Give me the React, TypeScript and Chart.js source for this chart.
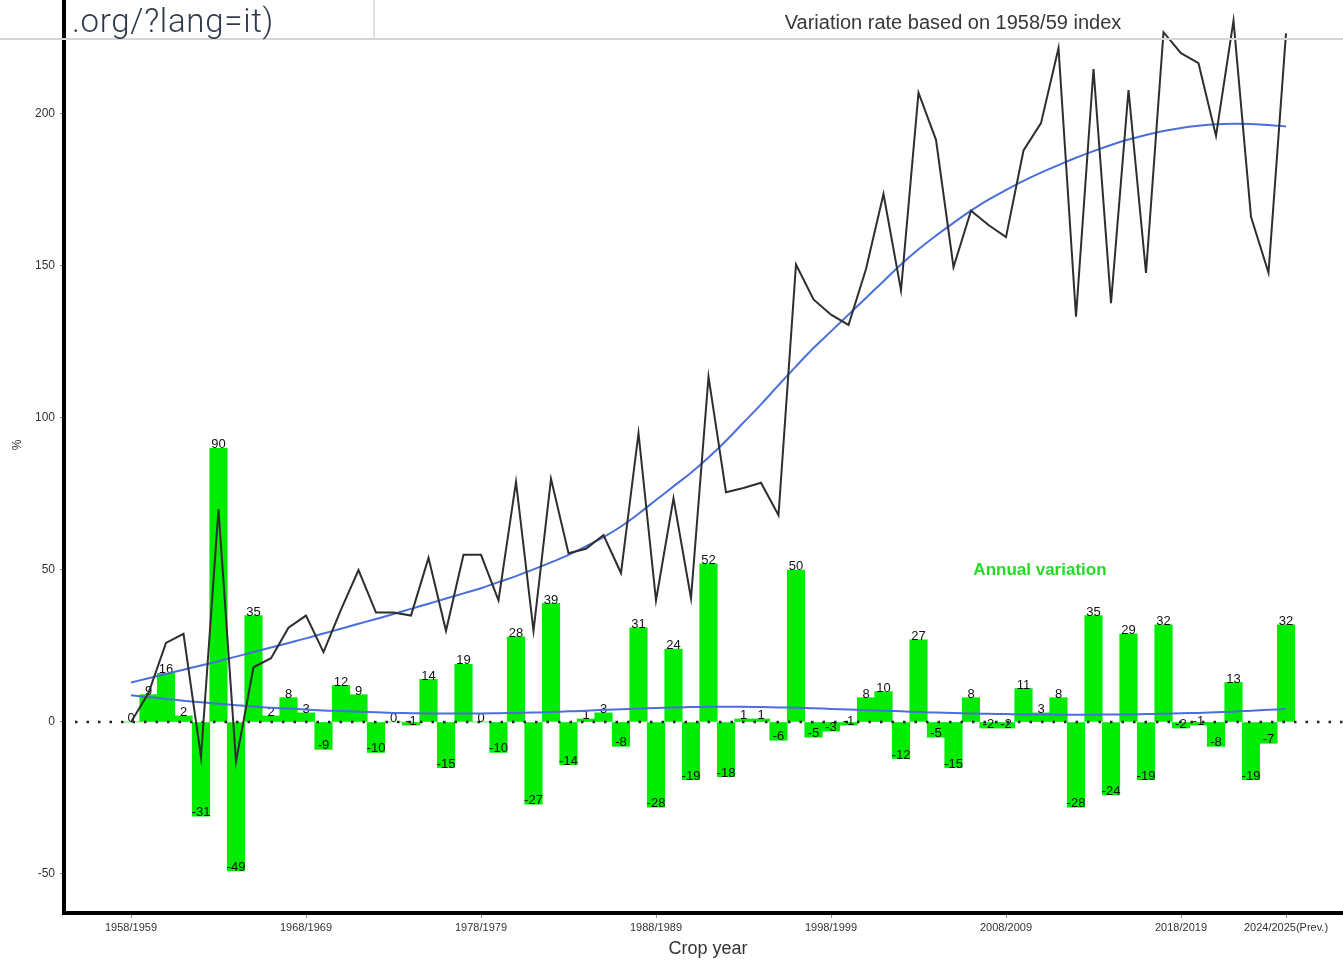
import React, { useEffect, useRef } from "react";
import { Chart, registerables } from "chart.js";

Chart.register(...registerables);

const categories = [
  "1958/1959", "1959/1960", "1960/1961", "1961/1962", "1962/1963", "1963/1964", "1964/1965", "1965/1966",
  "1966/1967", "1967/1968", "1968/1969", "1969/1970", "1970/1971", "1971/1972", "1972/1973", "1973/1974",
  "1974/1975", "1975/1976", "1976/1977", "1977/1978", "1978/1979", "1979/1980", "1980/1981", "1981/1982",
  "1982/1983", "1983/1984", "1984/1985", "1985/1986", "1986/1987", "1987/1988", "1988/1989", "1989/1990",
  "1990/1991", "1991/1992", "1992/1993", "1993/1994", "1994/1995", "1995/1996", "1996/1997", "1997/1998",
  "1998/1999", "1999/2000", "2000/2001", "2001/2002", "2002/2003", "2003/2004", "2004/2005", "2005/2006",
  "2006/2007", "2007/2008", "2008/2009", "2009/2010", "2010/2011", "2011/2012", "2012/2013", "2013/2014",
  "2014/2015", "2015/2016", "2016/2017", "2017/2018", "2018/2019", "2019/2020", "2020/2021", "2021/2022",
  "2022/2023", "2023/2024", "2024/2025(Prev.)",
];

const tickCategories = [
  "1958/1959", "1968/1969", "1978/1979", "1988/1989", "1998/1999", "2008/2009", "2018/2019", "2024/2025(Prev.)",
];

const yTickValues = [-50, 0, 50, 100, 150, 200];

// Annual variation (%) - green bars
const annualVariation = [
  0, 9, 16, 2, -31, 90, -49, 35, 2, 8,
  3, -9, 12, 9, -10, 0, -1, 14, -15, 19,
  0, -10, 28, -27, 39, -14, 1, 3, -8, 31,
  -28, 24, -19, 52, -18, 1, 1, -6, 50, -5,
  -3, -1, 8, 10, -12, 27, -5, -15, 8, -2,
  -2, 11, 3, 8, -28, 35, -24, 29, -19, 32,
  -2, -1, -8, 13, -19, -7, 32,
];

// Variation rate based on 1958/59 index (%) - black line
const indexRate = [
  0, 9.5, 26, 29, -11.5, 70, -13, 18, 21, 31,
  35, 23, 37, 50, 36, 36, 35, 54, 30, 55,
  55, 40, 79, 30, 80, 55.5, 57, 61.5, 49, 95,
  40, 73.6, 40.7, 113.6, 75.6, 77, 78.7, 68, 150.5, 139,
  134, 130.6, 149, 173.7, 142, 207, 191.5, 149.6, 168.2, 163.5,
  159.5, 188, 197, 221.7, 133.3, 214.8, 137.8, 207.9, 147.7, 226.9,
  220, 216.7, 192.8, 230.7, 166.2, 147.8, 226.5,
];

// Trend of the index line (blue)
const indexTrend = [
  13.0, 14.4, 15.8, 17.2, 18.6, 20.0, 21.5, 23.0, 24.5, 26.0,
  27.5, 29.1, 30.7, 32.3, 33.9, 35.5, 37.2, 38.9, 40.6, 42.3,
  44.0, 46.0, 48.0, 50.2, 52.5, 55.0, 57.8, 60.8, 64.3, 68.5,
  73.0, 77.5, 82.0, 87.0, 92.5, 98.5, 104.5, 110.8, 117.0, 123.0,
  128.5, 134.0, 139.5, 145.0, 150.5, 155.5, 160.0, 164.2, 168.2, 171.8,
  175.0, 178.0, 180.7, 183.2, 185.6, 187.8, 189.8, 191.6, 193.1, 194.4,
  195.4, 196.1, 196.6, 196.8, 196.7, 196.4, 195.9,
];

// Trend of the annual variation (blue)
const variationTrend = [
  8.8, 8.2, 7.6, 7.0, 6.5, 6.0, 5.5, 5.1, 4.7, 4.4,
  4.1, 3.8, 3.6, 3.4, 3.2, 3.0, 2.9, 2.8, 2.8, 2.8,
  2.8, 2.9, 3.0, 3.1, 3.3, 3.5, 3.7, 4.0, 4.2, 4.4,
  4.6, 4.8, 4.9, 5.0, 5.0, 5.0, 4.9, 4.8, 4.7, 4.5,
  4.3, 4.1, 3.9, 3.7, 3.5, 3.3, 3.1, 3.0, 2.8, 2.7,
  2.6, 2.5, 2.5, 2.4, 2.4, 2.4, 2.5, 2.5, 2.6, 2.7,
  2.9, 3.0, 3.2, 3.4, 3.7, 4.0, 4.3,
];

const FONT = '"Liberation Sans", Arial, sans-serif';

const W = 1343;
const H = 961;
const Y_AXIS_W = 64;
const X_AXIS_H = 48;
const XMIN = -3.8286;
const XMAX = 69.257;
const YMIN = -62.83;
const YMAX = 237.5;

export default function App() {
  const ref = useRef<HTMLCanvasElement>(null);

  useEffect(() => {
    const canvas = ref.current;
    if (!canvas) return;
    const toXY = (arr: number[]) => arr.map((v, i) => ({ x: i, y: v }));
    const tickIdx = tickCategories.map((t) => categories.indexOf(t));

    const overlay = {
      id: "overlay",
      afterDatasetDraw(chart: any, args: any) {
        if (args.index !== 0) return;
        const { ctx, chartArea, scales } = chart;
        const y0 = scales.y.getPixelForValue(0);
        ctx.save();
        ctx.strokeStyle = "#222";
        ctx.lineWidth = 2.5;
        ctx.setLineDash([2.5, 9]);
        ctx.beginPath();
        ctx.moveTo(chartArea.left + 11, y0);
        ctx.lineTo(chartArea.right, y0);
        ctx.stroke();
        ctx.setLineDash([]);
        const meta = chart.getDatasetMeta(0);
        ctx.font = `13px ${FONT}`;
        ctx.fillStyle = "#111";
        ctx.textAlign = "center";
        ctx.textBaseline = "middle";
        meta.data.forEach((el: any, i: number) => {
          ctx.fillText(String(annualVariation[i]), el.x, el.y - 3.5);
        });
        ctx.restore();
      },
      afterDraw(chart: any) {
        const { ctx, scales } = chart;
        ctx.save();
        ctx.font = `bold 17px ${FONT}`;
        ctx.fillStyle = "#22dd22";
        ctx.textAlign = "center";
        ctx.textBaseline = "middle";
        ctx.fillText("Annual variation", scales.x.getPixelForValue(51.94), scales.y.getPixelForValue(50));
        ctx.font = `20px ${FONT}`;
        ctx.fillStyle = "#383838";
        ctx.fillText("Variation rate based on 1958/59 index", 953, 23);
        ctx.font = `18px ${FONT}`;
        ctx.fillStyle = "#333";
        ctx.fillText("Crop year", 708, 949);
        ctx.translate(18, 445);
        ctx.rotate(-Math.PI / 2);
        ctx.font = `12px ${FONT}`;
        ctx.fillText("%", 0, 0);
        ctx.restore();
      },
    };

    const chart = new Chart(canvas, {
      type: "bar",
      data: {
        datasets: [
          {
            type: "bar",
            label: "Annual variation",
            data: toXY(annualVariation),
            backgroundColor: "#00ec00",
            borderWidth: 0,
            barPercentage: 1,
            categoryPercentage: 1,
            order: 3,
          } as any,
          {
            type: "line",
            label: "Variation rate based on 1958/59 index",
            data: toXY(indexRate),
            borderColor: "#2e2e2e",
            borderWidth: 2,
            pointRadius: 0,
            tension: 0,
            order: 1,
          } as any,
          {
            type: "line",
            label: "Index trend",
            data: toXY(indexTrend),
            borderColor: "#4a6fdc",
            borderWidth: 2,
            pointRadius: 0,
            tension: 0.4,
            order: 2,
          } as any,
          {
            type: "line",
            label: "Variation trend",
            data: toXY(variationTrend),
            borderColor: "#4a6fdc",
            borderWidth: 2,
            pointRadius: 0,
            tension: 0.4,
            order: 2,
          } as any,
        ],
      },
      options: {
        responsive: false,
        animation: false,
        events: [],
        layout: { padding: 0 },
        plugins: { legend: { display: false }, tooltip: { enabled: false } },
        scales: {
          x: {
            type: "linear",
            min: XMIN,
            max: XMAX,
            offset: false,
            afterBuildTicks: (s: any) => {
              s.ticks = tickIdx.map((v) => ({ value: v }));
            },
            afterFit: (s: any) => {
              s.height = X_AXIS_H;
              s.paddingLeft = 0;
              s.paddingRight = 0;
              s.paddingTop = 0;
              s.paddingBottom = 0;
            },
            ticks: {
              autoSkip: false,
              maxRotation: 0,
              minRotation: 0,
              padding: 3,
              color: "#333",
              font: { size: 11, family: FONT },
              callback: (v: any) => categories[v as number],
            },
            grid: { display: true, drawOnChartArea: false, drawTicks: true, tickLength: 5, color: "#888", offset: false },
            border: { display: true, color: "#000", width: 4 },
          },
          y: {
            type: "linear",
            min: YMIN,
            max: YMAX,
            afterBuildTicks: (s: any) => {
              s.ticks = yTickValues.map((v) => ({ value: v }));
            },
            afterFit: (s: any) => {
              s.width = Y_AXIS_W;
              s.paddingLeft = 0;
              s.paddingRight = 0;
              s.paddingTop = 0;
              s.paddingBottom = 0;
            },
            ticks: {
              padding: 5,
              color: "#333",
              font: { size: 12, family: FONT },
            },
            grid: { display: true, drawOnChartArea: false, drawTicks: true, tickLength: 4, color: "#888" },
            border: { display: true, color: "#000", width: 4 },
          },
        },
      } as any,
      plugins: [overlay],
    });

    return () => chart.destroy();
  }, []);

  return (
    <div style={{ position: "absolute", left: 0, top: 0, width: W, height: H, background: "#fff", overflow: "hidden" }}>
      <canvas ref={ref} width={W} height={H} style={{ display: "block", width: W, height: H }} />
      <div style={{ position: "absolute", left: 0, top: 38, width: W, height: 2, background: "#d6d6d6" }} />
      <div style={{ position: "absolute", left: 373, top: 0, width: 2, height: 38, background: "#e2e2e2" }} />
      <div
        style={{
          position: "absolute",
          left: 72,
          top: 4,
          fontFamily: "Roboto, sans-serif",
          fontWeight: 300,
          fontSize: 33,
          lineHeight: "33px",
          letterSpacing: "0.7px",
          color: "#2f3b4c",
          whiteSpace: "nowrap",
        }}
      >
        .org/?lang=it)
      </div>
    </div>
  );
}
